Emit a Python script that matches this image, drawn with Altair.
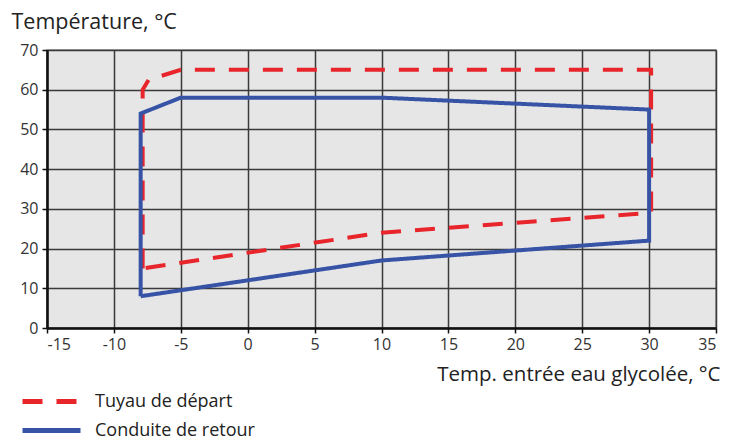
import altair as alt
import pandas as pd

series_names = ["Tuyau de départ", "Conduite de retour"]
x_depart = [-7.85, -7.85, -7.4, -5, 30.15, 30.15, 10, -7.85]
y_depart = [15, 60, 62.5, 65, 65, 29, 24, 15]
x_retour = [-8, -8, -5, 10, 30, 30, 10, -8]
y_retour = [8, 54, 58, 58, 55, 22, 17, 8]
x_ticks = [-15, -10, -5, 0, 5, 10, 15, 20, 25, 30, 35]
y_ticks = [0, 10, 20, 30, 40, 50, 60, 70]

rows = []
for name, xs, ys in [(series_names[0], x_depart, y_depart), (series_names[1], x_retour, y_retour)]:
    for i, (xv, yv) in enumerate(zip(xs, ys)):
        rows.append({"serie": name, "x": xv, "y": yv, "i": i})
df = pd.DataFrame(rows)

TFONT = "Open Sans, sans-serif"

legend = alt.Legend(title=None, orient="none", legendX=-8, legendY=339,
                    symbolType="M-2.9,0H2.9", symbolSize=400, symbolStrokeWidth=5,
                    labelFont=TFONT, labelFontSize=18, labelColor="#222",
                    labelOffset=31, rowPadding=6)

chart = alt.Chart(df).mark_line(strokeWidth=4, strokeCap="butt", strokeJoin="miter").encode(
    x=alt.X("x:Q", scale=alt.Scale(domain=[-15, 35], nice=False, zero=False),
            axis=alt.Axis(values=x_ticks, title="Temp. entrée eau glycolée, °C",
                          labelExpr="replace(datum.label, '\u2212', '-')",
                          titleAnchor="end", titleAlign="right", titleX=673, titleY=46,
                          titleBaseline="middle", titleFont=TFONT, titleFontSize=20.5,
                          titleFontWeight="normal", titleColor="#222", labelPadding=3)),
    y=alt.Y("y:Q", scale=alt.Scale(domain=[0, 70], nice=False),
            axis=alt.Axis(values=y_ticks, title="Température, °C", titleAngle=0,
                          titleAlign="left", titleX=-36, titleY=-28, titleBaseline="middle",
                          titleFont=TFONT, titleFontSize=21.5, titleFontWeight="normal",
                          titleColor="#222", labelPadding=4)),
    color=alt.Color("serie:N", scale=alt.Scale(domain=series_names, range=["#e8252b", "#3753a6"]),
                    legend=legend),
    strokeDash=alt.StrokeDash("serie:N", scale=alt.Scale(domain=series_names, range=[[20, 14], [1, 0]]),
                              legend=legend),
    order="i:Q",
).properties(
    width=669, height=278,
    autosize=alt.AutoSizeParams(type="none"),
    padding={"left": 39, "top": 42, "right": 5, "bottom": 112},
).configure_view(
    fill="#e6e6e6", stroke="#8a8a8a", strokeWidth=1.5
).configure_axis(
    grid=True, gridColor="#3a3a3a", gridWidth=1.5, gridOpacity=1,
    domainColor="#111", domainWidth=2.5, tickColor="#111", tickWidth=1.5, tickSize=5,
    labelFont=TFONT, labelFontSize=16, labelColor="#333",
)

chart.save("out.html", embed_options={"renderer": "svg", "actions": False})
